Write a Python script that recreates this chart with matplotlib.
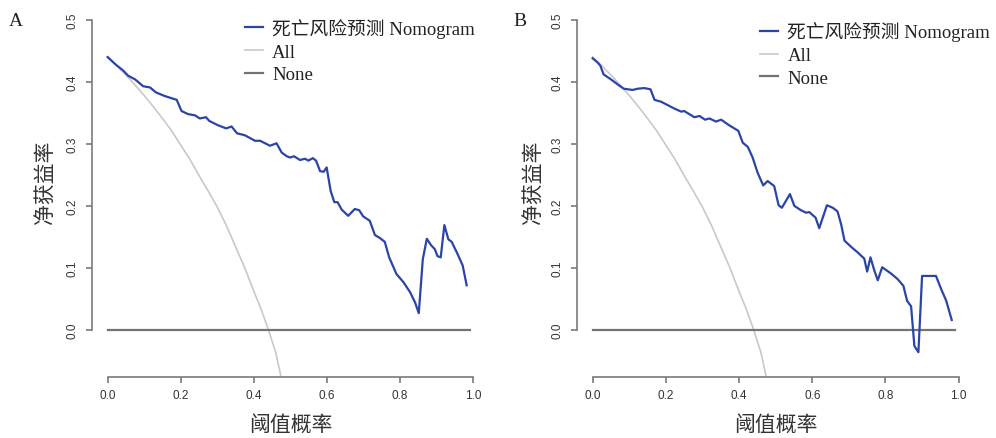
import matplotlib
matplotlib.use("Agg")
import matplotlib.pyplot as plt

# ---------------- data ----------------
a_t = [0.0, 0.02, 0.043, 0.056, 0.075, 0.097, 0.116, 0.132, 0.157, 0.189, 0.202, 0.22,
       0.239, 0.252, 0.269, 0.278, 0.302, 0.324, 0.339, 0.354, 0.375, 0.403, 0.417, 0.444,
       0.462, 0.476, 0.49, 0.499, 0.51, 0.526, 0.54, 0.549, 0.561, 0.570, 0.581, 0.591,
       0.599, 0.61, 0.620, 0.629, 0.640, 0.658, 0.676, 0.688, 0.699, 0.717, 0.731, 0.745,
       0.758, 0.770, 0.790, 0.809, 0.827, 0.841, 0.851, 0.862, 0.873, 0.884, 0.895, 0.902,
       0.911, 0.921, 0.932, 0.941, 0.955, 0.971, 0.982]
a_nb = [0.44, 0.429, 0.418, 0.41, 0.404, 0.393, 0.391, 0.383, 0.377, 0.371, 0.353, 0.348,
        0.346, 0.341, 0.343, 0.337, 0.330, 0.325, 0.328, 0.317, 0.314, 0.305, 0.305, 0.297,
        0.301, 0.286, 0.280, 0.278, 0.280, 0.274, 0.276, 0.273, 0.277, 0.273, 0.256, 0.255,
        0.262, 0.224, 0.206, 0.206, 0.194, 0.184, 0.195, 0.193, 0.183, 0.176, 0.153, 0.148,
        0.142, 0.117, 0.090, 0.077, 0.061, 0.044, 0.027, 0.114, 0.147, 0.137, 0.130, 0.119,
        0.117, 0.169, 0.146, 0.142, 0.125, 0.104, 0.072]

b_t = [0.0, 0.014, 0.021, 0.030, 0.050, 0.068, 0.085, 0.109, 0.123, 0.141, 0.158, 0.169,
       0.187, 0.21, 0.223, 0.242, 0.25, 0.278, 0.292, 0.307, 0.319, 0.337, 0.351, 0.373,
       0.398, 0.41, 0.424, 0.437, 0.451, 0.466, 0.478, 0.496, 0.508, 0.517, 0.539, 0.551,
       0.569, 0.583, 0.592, 0.609, 0.619, 0.640, 0.656, 0.669, 0.679, 0.688, 0.706, 0.724,
       0.742, 0.750, 0.759, 0.770, 0.779, 0.791, 0.815, 0.833, 0.849, 0.859, 0.870, 0.879,
       0.890, 0.900, 0.938, 0.952, 0.966, 0.981]
b_nb = [0.438, 0.431, 0.426, 0.412, 0.404, 0.396, 0.389, 0.387, 0.389, 0.390, 0.388, 0.371,
        0.368, 0.361, 0.357, 0.352, 0.353, 0.343, 0.345, 0.339, 0.341, 0.336, 0.339, 0.330,
        0.321, 0.302, 0.295, 0.278, 0.253, 0.233, 0.240, 0.232, 0.201, 0.197, 0.219, 0.200,
        0.193, 0.189, 0.190, 0.181, 0.164, 0.201, 0.197, 0.191, 0.170, 0.144, 0.134, 0.125,
        0.115, 0.094, 0.117, 0.095, 0.080, 0.101, 0.091, 0.082, 0.071, 0.047, 0.038, -0.026,
        -0.036, 0.087, 0.087, 0.066, 0.047, 0.016]

all_t = [0.0, 0.025, 0.05, 0.075, 0.10, 0.125, 0.15, 0.175, 0.20, 0.225, 0.25, 0.275,
         0.30, 0.325, 0.35, 0.375, 0.40, 0.42, 0.44, 0.46, 0.475]
all_nb = [0.44, 0.426, 0.411, 0.395, 0.378, 0.360, 0.341, 0.321, 0.298, 0.275, 0.249, 0.224,
          0.198, 0.168, 0.134, 0.100, 0.062, 0.033, 0.0, -0.037, -0.078]

none_t = [0.0, 0.99]
none_nb = [0.0, 0.0]

panel_labels = ["A", "B"]
legend_labels = ["死亡风险预测 Nomogram", "All", "None"]
x_label = "阈值概率"
y_label = "净获益率"
x_ticks = [0.0, 0.2, 0.4, 0.6, 0.8, 1.0]
y_ticks = [0.0, 0.1, 0.2, 0.3, 0.4, 0.5]

# ---------------- styling ----------------
BLUE = "#2B45A6"
ALLC = "#C9C9C9"
NONEC = "#737373"
SPINE = "#7A7A7A"
CJK = ["Noto Sans CJK SC"]
SERIF_CJK = ["Liberation Serif", "Noto Sans CJK SC"]

W, H = 996, 439
fig = plt.figure(figsize=(W / 100, H / 100), dpi=100)

panels = [
    dict(series=(a_t, a_nb), left=92.3, unit=365.6, leg=(0.386, 0.972), lab_x=16, ylab_x=45),
    dict(series=(b_t, b_nb), left=577.3, unit=366.0, leg=(0.462, 0.962), lab_x=520, ylab_x=533),
]

x0, x1 = -0.042, 1.04
y0, y1 = -0.076, 0.52
ypx = 620.0
bottom_px = 378.0

for i, p in enumerate(panels):
    wpx = (x1 - x0) * p["unit"]
    hpx = (y1 - y0) * ypx
    ax = fig.add_axes([p["left"] / W, (H - bottom_px) / H, wpx / W, hpx / H])
    ax.set_xlim(x0, x1)
    ax.set_ylim(y0, y1)
    t, nb = p["series"]
    l1, = ax.plot(t, nb, color=BLUE, lw=1.6, zorder=3, solid_joinstyle="round")
    l2, = ax.plot(all_t, all_nb, color=ALLC, lw=1.2, zorder=2)
    l3, = ax.plot(none_t, none_nb, color=NONEC, lw=1.6, zorder=2)

    for s in ["top", "right"]:
        ax.spines[s].set_visible(False)
    ax.spines["left"].set_bounds(0.0, 0.5)
    ax.spines["bottom"].set_bounds(0.0, 1.0)
    for s in ["left", "bottom"]:
        ax.spines[s].set_color(SPINE)
        ax.spines[s].set_linewidth(1.2)
    ax.set_xticks(x_ticks)
    ax.set_yticks(y_ticks)
    ax.set_xticklabels([f"{v:.1f}" for v in x_ticks], family="Liberation Sans", fontsize=8.5, color="#333333")
    ax.set_yticklabels([f"{v:.1f}" for v in y_ticks], family="Liberation Sans", fontsize=8.5,
                       color="#333333", rotation=90, va="center")
    ax.tick_params(axis="both", length=4, width=1.2, color=SPINE, direction="out")
    ax.tick_params(axis="x", pad=5)
    ax.tick_params(axis="y", pad=6)

    leg = ax.legend([l1, l2, l3], legend_labels, loc="upper left", bbox_to_anchor=p["leg"],
                    frameon=False, borderpad=0, borderaxespad=0, handlelength=0.95,
                    handletextpad=0.5, labelspacing=0.3,
                    prop=dict(family=SERIF_CJK, size=13.5))
    for txt in leg.get_texts():
        txt.set_color("#222222")

    fig.text(p["left"] / W + (0.5 - x0) * p["unit"] / W, 1 - 425 / H, x_label,
             family=CJK, fontsize=15, ha="center", va="center", color="#333333")
    fig.text(p["ylab_x"] / W, 1 - 182 / H, y_label, family=CJK, fontsize=15,
             ha="center", va="center", rotation=90, color="#333333")
    fig.text(p["lab_x"] / W, 1 - 22 / H, panel_labels[i], family="Liberation Serif",
             fontsize=14, ha="center", va="center", color="#222222")

fig.savefig("out.png", dpi=100)
